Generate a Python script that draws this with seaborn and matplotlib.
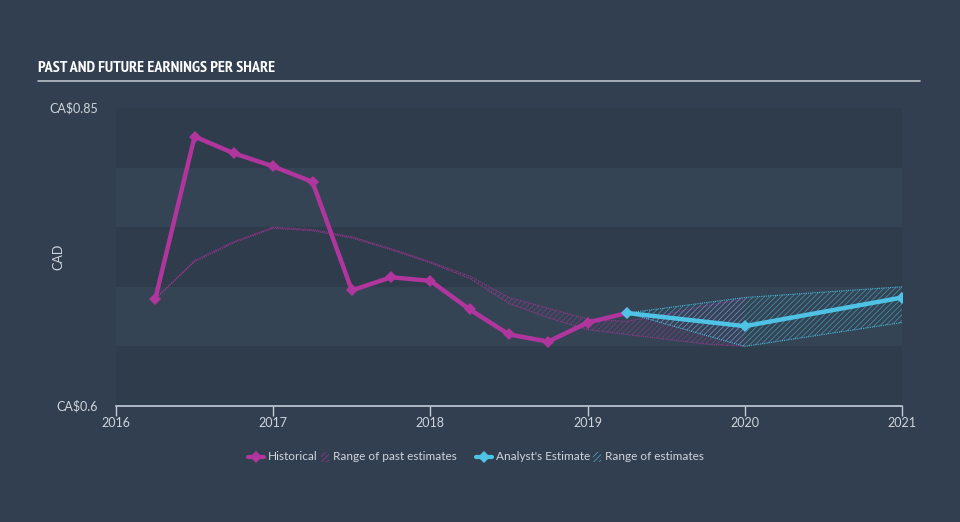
import numpy as np
import pandas as pd
import seaborn as sns
import matplotlib
matplotlib.use("Agg")
import matplotlib.pyplot as plt
from matplotlib.lines import Line2D
from matplotlib.patches import Rectangle
from matplotlib import font_manager as fm

# ---- data ----
hist_x = [2016.25, 2016.5, 2016.75, 2017.0, 2017.25, 2017.5, 2017.75, 2018.0,
          2018.25, 2018.5, 2018.75, 2019.0, 2019.25]
hist_y = [0.690, 0.826, 0.812, 0.801, 0.788, 0.697, 0.708, 0.705,
          0.681, 0.660, 0.654, 0.670, 0.678]

est_x = [2019.25, 2020.0, 2021.0]
est_y = [0.678, 0.667, 0.691]
est_hi = [0.678, 0.691, 0.700]
est_lo = [0.678, 0.650, 0.670]

past_x = [2016.25, 2016.5, 2016.75, 2017.0, 2017.25, 2017.5, 2017.75, 2018.0,
          2018.25, 2018.5, 2018.75, 2019.0, 2019.25, 2019.5, 2019.75, 2020.0]
past_hi = [0.690, 0.722, 0.738, 0.750, 0.748, 0.742, 0.732, 0.721,
           0.709, 0.691, 0.682, 0.673, 0.671, 0.677, 0.684, 0.690]
past_lo = [0.690, 0.721, 0.737, 0.749, 0.747, 0.741, 0.731, 0.720,
           0.707, 0.686, 0.674, 0.664, 0.660, 0.656, 0.652, 0.650]

x_ticks = [2016, 2017, 2018, 2019, 2020, 2021]
y_ticks = [0.6, 0.85]
y_tick_labels = ["CA$0.6", "CA$0.85"]
legend_labels = ["Historical", "Range of past estimates", "Analyst's Estimate", "Range of estimates"]
title = "PAST AND FUTURE EARNINGS PER SHARE"

# ---- style ----
BG = "#323f50"
PINK = "#b0359c"
CYAN = "#4ec3e6"
TXT = "#d0d5dc"
UIFONT = ["Lato", "DejaVu Sans"]

sns.set_theme(style="dark")
plt.rcParams["font.family"] = UIFONT
plt.rcParams["hatch.linewidth"] = 0.6

# pick a narrow / condensed bold font for the title if available
def pick_title_font():
    files = [f.fname for f in fm.fontManager.ttflist]
    prefs = [("narrow", "bold"), ("condensed", "bold"), ("narrow", ""), ("condensed", "")]
    for a, b in prefs:
        for fn in files:
            low = fn.lower()
            if a in low and b in low and "italic" not in low and "oblique" not in low:
                return fm.FontProperties(fname=fn, size=11.6)
    return fm.FontProperties(family="DejaVu Sans", weight="bold", size=11)

fig = plt.figure(figsize=(9.6, 5.22), dpi=100, facecolor=BG)
ax = fig.add_axes([116/960, 1-406/522, (902-116)/960, (406-108)/522])
ax.set_facecolor(BG)

# bands
band_cols = ["#2e3c4c", "#344455", "#2e3c4c", "#344455", "#2e3c4c"]
edges = [0.60, 0.65, 0.70, 0.75, 0.80, 0.85]
for i in range(5):
    ax.axhspan(edges[i], edges[i+1], color=band_cols[i], zorder=0, lw=0)

# ranges
ax.fill_between(past_x, past_lo, past_hi, facecolor="none", edgecolor=PINK,
                hatch="//////", lw=0, alpha=0.55, zorder=1)
ax.plot(past_x, past_hi, color=PINK, lw=0.8, ls=(0, (1, 1)), alpha=0.8, zorder=1)
ax.plot(past_x, past_lo, color=PINK, lw=0.8, ls=(0, (1, 1)), alpha=0.8, zorder=1)

ax.fill_between(est_x, est_lo, est_hi, facecolor="none", edgecolor=CYAN,
                hatch="//////", lw=0, alpha=0.55, zorder=1)
ax.plot(est_x, est_hi, color=CYAN, lw=0.8, ls=(0, (1, 1)), alpha=0.9, zorder=1)
ax.plot(est_x, est_lo, color=CYAN, lw=0.8, ls=(0, (1, 1)), alpha=0.9, zorder=1)

hist_df = pd.DataFrame({"x": hist_x, "y": hist_y})
est_df = pd.DataFrame({"x": est_x, "y": est_y})
sns.lineplot(data=hist_df, x="x", y="y", ax=ax, color=PINK, lw=3.2,
             marker="D", markersize=6, markeredgewidth=0, zorder=3)
sns.lineplot(data=est_df, x="x", y="y", ax=ax, color=CYAN, lw=3.2,
             marker="D", markersize=6, markeredgewidth=0, zorder=4)

ax.set_xlim(2016, 2021)
ax.set_ylim(0.6, 0.85)
ax.set_xticks(x_ticks)
ax.set_xticklabels([str(t) for t in x_ticks], color=TXT, fontsize=9)
ax.set_yticks(y_ticks)
ax.set_yticklabels([s.replace("$", r"\$") for s in y_tick_labels], color=TXT, fontsize=9)
ax.tick_params(axis="x", length=7, width=1, color="#c3cdd8", pad=1, direction="out", bottom=True)
ax.tick_params(axis="y", length=0, pad=13)
for lab in ax.get_yticklabels():
    lab.set_verticalalignment("center")
ax.set_xlabel("")
ax.set_ylabel("CAD", color=TXT, fontsize=9)
ax.yaxis.set_label_coords(-0.066, 0.5)
for s in ["top", "right", "left"]:
    ax.spines[s].set_visible(False)
ax.spines["bottom"].set_color("#c3cdd8")
ax.spines["bottom"].set_linewidth(1.2)
ax.grid(False)

# title
fig.text(38/960, 1-68/522, title, color="white",
         fontproperties=pick_title_font(), va="center", ha="left")
fig.add_artist(Line2D([38/960, 920/960], [1-81/522, 1-81/522],
                      color="#b9c0c8", lw=1.2, transform=fig.transFigure))

# manual legend laid out in pixels
W, H = 960, 522
ly = 457
texts = [fig.text(0, 1-ly/H, s, color=TXT, fontsize=8.5, va="center", ha="left")
         for s in legend_labels]
fig.canvas.draw()
r = fig.canvas.get_renderer()
widths = [t.get_window_extent(r).width for t in texts]
handle_w, patch_w, g1, g2, gap_mid = 16, 8, 4, 3, 19
total = (handle_w + g1 + widths[0] + g2 + patch_w + g1 + widths[1] + gap_mid +
         handle_w + g1 + widths[2] + g2 + patch_w + g1 + widths[3])
x = 476 - total / 2
for k, col in enumerate([PINK, CYAN]):
    fig.add_artist(Line2D([x/W, (x+handle_w)/W], [1-ly/H]*2, color=col, lw=3,
                          transform=fig.transFigure))
    fig.add_artist(Line2D([(x+handle_w/2)/W], [1-ly/H], color=col, marker="D",
                          markersize=6.5, markeredgewidth=0, transform=fig.transFigure))
    x += handle_w + g1
    texts[2*k].set_x(x/W)
    x += widths[2*k] + g2
    fig.add_artist(Rectangle((x/W, 1-(ly+5)/H), patch_w/W, 10/H, facecolor="none",
                             edgecolor=col, hatch="//////", lw=0, alpha=0.7,
                             transform=fig.transFigure))
    x += patch_w + g1
    texts[2*k+1].set_x(x/W)
    x += widths[2*k+1] + gap_mid

fig.savefig("out.png", dpi=100, facecolor=BG)
